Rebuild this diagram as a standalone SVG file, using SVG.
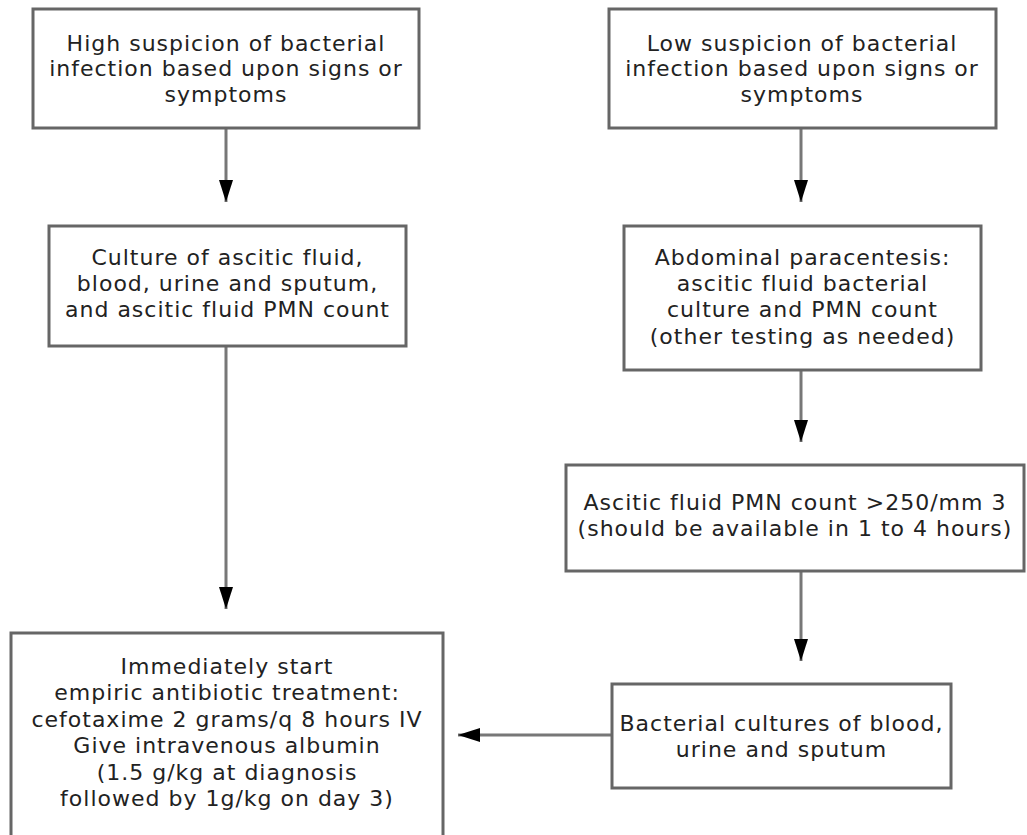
<svg xmlns="http://www.w3.org/2000/svg" width="1027" height="835" viewBox="0 0 1027 835">
<style>
.box{fill:#fff;stroke:#666;stroke-width:3}
.t{font-family:"DejaVu Sans",Verdana,sans-serif;font-size:22px;letter-spacing:1px;fill:#222;text-anchor:middle;dominant-baseline:central}
.c{stroke:#777;stroke-width:3;fill:none}
</style>
<defs>
<marker id="ah" markerWidth="22" markerHeight="14" refX="22" refY="7" orient="auto" markerUnits="userSpaceOnUse">
<path d="M0,0 L22,7 L0,14 Z" fill="#000"/>
</marker>
</defs>
<rect width="1027" height="835" fill="#fff"/>
<g id="connectors">
<line class="c" x1="226" y1="128" x2="226" y2="202" marker-end="url(#ah)"/>
<line class="c" x1="801" y1="128" x2="801" y2="202" marker-end="url(#ah)"/>
<line class="c" x1="226" y1="346" x2="226" y2="609" marker-end="url(#ah)"/>
<line class="c" x1="801" y1="370" x2="801" y2="442" marker-end="url(#ah)"/>
<line class="c" x1="801" y1="572" x2="801" y2="661" marker-end="url(#ah)"/>
<line class="c" x1="612" y1="735" x2="458" y2="735" marker-end="url(#ah)"/>
</g>
<g id="n1">
<rect class="box" x="33" y="9" width="386" height="119"/>
<text class="t" x="226" y="43">High suspicion of bacterial</text>
<text class="t" x="226" y="68.5">infection based upon signs or</text>
<text class="t" x="226" y="94">symptoms</text>
</g>
<g id="n2">
<rect class="box" x="609" y="9" width="387" height="119"/>
<text class="t" x="802" y="43">Low suspicion of bacterial</text>
<text class="t" x="802" y="68.5">infection based upon signs or</text>
<text class="t" x="802" y="94">symptoms</text>
</g>
<g id="n3">
<rect class="box" x="49" y="226" width="357" height="120"/>
<text class="t" x="227.5" y="257">Culture of ascitic fluid,</text>
<text class="t" x="227.5" y="283">blood, urine and sputum,</text>
<text class="t" x="227.5" y="309">and ascitic fluid PMN count</text>
</g>
<g id="n4">
<rect class="box" x="624" y="226" width="357" height="144"/>
<text class="t" x="802.5" y="257">Abdominal paracentesis:</text>
<text class="t" x="802.5" y="283">ascitic fluid bacterial</text>
<text class="t" x="802.5" y="309">culture and PMN count</text>
<text class="t" x="802.5" y="336">(other testing as needed)</text>
</g>
<g id="n5">
<rect class="box" x="566" y="465" width="458" height="106"/>
<text class="t" x="795" y="502">Ascitic fluid PMN count &gt;250/mm 3</text>
<text class="t" x="795" y="528">(should be available in 1 to 4 hours)</text>
</g>
<g id="n6">
<rect class="box" x="11" y="633" width="432" height="210"/>
<text class="t" x="227" y="666">Immediately start</text>
<text class="t" x="227" y="692">empiric antibiotic treatment:</text>
<text class="t" x="227" y="719">cefotaxime 2 grams/q 8 hours IV</text>
<text class="t" x="227" y="745">Give intravenous albumin</text>
<text class="t" x="227" y="772">(1.5 g/kg at diagnosis</text>
<text class="t" x="227" y="798">followed by 1g/kg on day 3)</text>
</g>
<g id="n7">
<rect class="box" x="612" y="684" width="339" height="104"/>
<text class="t" x="781.5" y="723">Bacterial cultures of blood,</text>
<text class="t" x="781.5" y="749">urine and sputum</text>
</g>
</svg>
